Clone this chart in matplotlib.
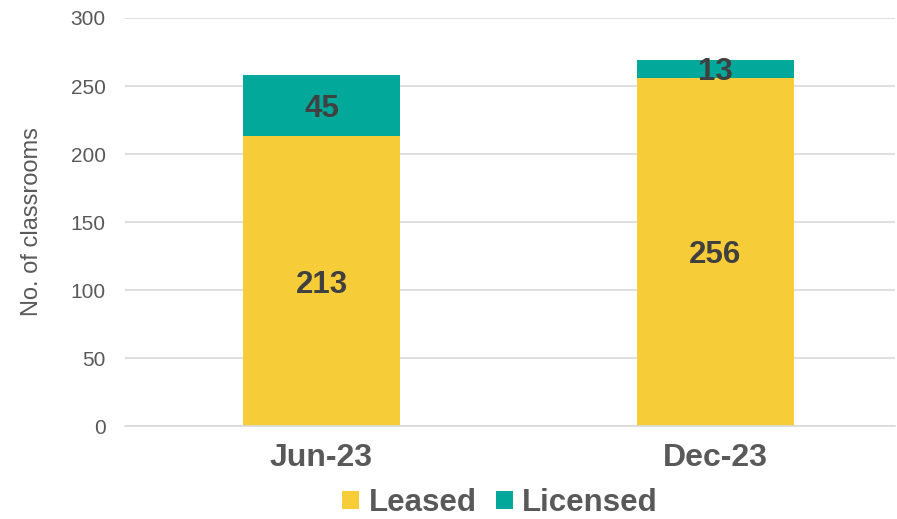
import matplotlib.pyplot as plt
import numpy as np

plt.rcParams['font.family'] = ['Liberation Sans', 'DejaVu Sans']

periods = ['Jun-23', 'Dec-23']
leased = [213, 256]
licensed = [45, 13]

yellow = '#F6CD38'
teal = '#02A99A'
grey = '#595959'
dark = '#404040'

fig = plt.figure(figsize=(8.97, 5.19), dpi=100)
ax = fig.add_axes([125 / 897, 1 - 426 / 519, 770 / 897, 408 / 519])

x = np.arange(len(periods))
w = 0.399
ax.bar(x, leased, w, color=yellow, label='Leased', zorder=2)
ax.bar(x, licensed, w, bottom=leased, color=teal, label='Licensed', zorder=2)

for i in range(len(periods)):
    ax.text(x[i], leased[i] / 2, str(leased[i]), ha='center', va='center_baseline',
            fontsize=22.5, fontweight='bold', color=dark, zorder=3)
    ax.text(x[i], leased[i] + licensed[i] / 2, str(licensed[i]), ha='center',
            va='center_baseline', fontsize=22.5, fontweight='bold', color=dark, zorder=3)

ax.set_xlim(-0.4994, 1.4574)
ax.set_ylim(0, 300)
ax.set_yticks(range(0, 301, 50))
ax.set_xticks(x)
ax.set_xticklabels(periods, fontsize=23, fontweight='bold', color=grey)
ax.tick_params(axis='y', labelsize=15, labelcolor=grey, length=0, pad=14)
ax.tick_params(axis='x', length=0, pad=12)
ax.grid(axis='y', color='#D9D9D9', linewidth=1.2, zorder=0)
for s in ['top', 'right', 'left']:
    ax.spines[s].set_visible(False)
ax.spines['bottom'].set_color('#D9D9D9')
ax.spines['bottom'].set_linewidth(1.2)
ax.set_ylabel('No. of classrooms', fontsize=17, color=grey, labelpad=20)

leg = fig.legend(loc='center', bbox_to_anchor=(500 / 897, 1 - 503 / 519), ncol=2,
                 frameon=False, handlelength=0.55, handleheight=0.55, handletextpad=0.3,
                 columnspacing=0.6, prop={'size': 22.5, 'weight': 'bold'})
for t in leg.get_texts():
    t.set_color(grey)

fig.savefig('out.png', dpi=100)
